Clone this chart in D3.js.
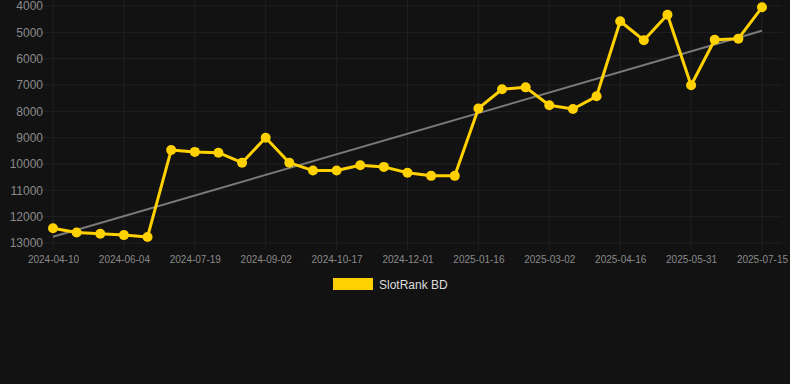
<!DOCTYPE html>
<html>
<head>
<meta charset="utf-8">
<script src="https://cdn.jsdelivr.net/npm/d3@7"></script>
<style>
  html, body { margin: 0; padding: 0; background: #121212; }
  svg { display: block; font-family: "Liberation Sans", Arial, sans-serif; }
  .axis text { fill: #8a8a8a; }
  .axis path { display: none; }
  .grid line { stroke: #202020; stroke-width: 1; }
</style>
</head>
<body>
<div class="chart"></div>
<script>
// data
var dates = ["2024-04-10", "2024-04-28", "2024-05-17", "2024-06-04", "2024-06-19", "2024-07-04",
  "2024-07-19", "2024-08-03", "2024-08-18", "2024-09-02", "2024-09-17", "2024-10-02",
  "2024-10-17", "2024-11-01", "2024-11-16", "2024-12-01", "2024-12-16", "2024-12-31",
  "2025-01-16", "2025-01-30", "2025-02-14", "2025-03-02", "2025-03-17", "2025-04-01",
  "2025-04-16", "2025-05-01", "2025-05-16", "2025-05-31", "2025-06-15", "2025-06-30", "2025-07-15"]
var rank = [12440, 12600, 12650, 12700, 12770, 9470, 9540, 9570, 9950, 9000, 9950, 10250,
  10250, 10050, 10110, 10330, 10450, 10450, 7890, 7160, 7090, 7770, 7910, 7430,
  4580, 5300, 4330, 7010, 5280, 5240, 4050]
var trendStart = 12760
var trendEnd = 4940
var yTicks = [4000, 5000, 6000, 7000, 8000, 9000, 10000, 11000, 12000, 13000]
var seriesName = "SlotRank BD"

var W = 790, H = 384
var plotL = 53, plotR = 762, plotT = 6, plotB = 243
var yellow = "#ffd100"

let svg = d3.select('div.chart').append('svg')
  .attr('width', W).attr('height', H)

svg.append('rect').attr('width', W).attr('height', H).attr('fill', '#121212')

let x = d3.scalePoint().domain(dates).range([plotL, plotR])
let y = d3.scaleLinear().domain([4000, 13000]).range([plotT, plotB])

var shownDates = dates.filter((d, i) => i % 3 == 0)

//grid
svg.append('g').attr('class', 'grid')
  .selectAll('line').data(yTicks).enter().append('line')
  .attr('x1', plotL - 25).attr('x2', plotR + 20)
  .attr('y1', d => y(d)).attr('y2', d => y(d))

svg.append('g').attr('class', 'grid')
  .selectAll('line').data(shownDates).enter().append('line')
  .attr('x1', d => x(d)).attr('x2', d => x(d))
  .attr('y1', plotT - 6).attr('y2', plotB + 7)

//Axis_y
svg.append('g').attr('class', 'axis')
  .attr('transform', 'translate(' + (plotL - 10) + ',0)')
  .call(d3.axisLeft(y).tickValues(yTicks).tickSize(0).tickPadding(0).tickFormat(d3.format('d')))
  .selectAll('text').style('font-size', '12px')

//Axis_x
svg.append('g').attr('class', 'axis')
  .attr('transform', 'translate(0,' + (plotB + 7) + ')')
  .call(d3.axisBottom(x).tickValues(shownDates).tickSize(0).tickPadding(6))
  .selectAll('text').style('font-size', '10px')

//trend
svg.append('line')
  .attr('x1', x(dates[0])).attr('y1', y(trendStart))
  .attr('x2', x(dates[dates.length - 1])).attr('y2', y(trendEnd))
  .attr('stroke', '#7a7a7a').attr('stroke-width', 2)

//line
let line = d3.line().x((d, i) => x(dates[i])).y(d => y(d))
svg.append('path').datum(rank)
  .attr('d', line)
  .attr('fill', 'none')
  .attr('stroke', yellow)
  .attr('stroke-width', 3)
  .attr('stroke-linejoin', 'round')

svg.append('g').selectAll('circle').data(rank).enter().append('circle')
  .attr('cx', (d, i) => x(dates[i]))
  .attr('cy', d => y(d))
  .attr('r', 5)
  .attr('fill', yellow)

//legend
svg.append('rect')
  .attr('x', 333).attr('y', 278).attr('width', 40).attr('height', 12)
  .attr('fill', yellow)
svg.append('text')
  .attr('x', 379).attr('y', 288.5)
  .attr('fill', '#dddddd').style('font-size', '12px')
  .text(seriesName)
</script>
</body>
</html>
